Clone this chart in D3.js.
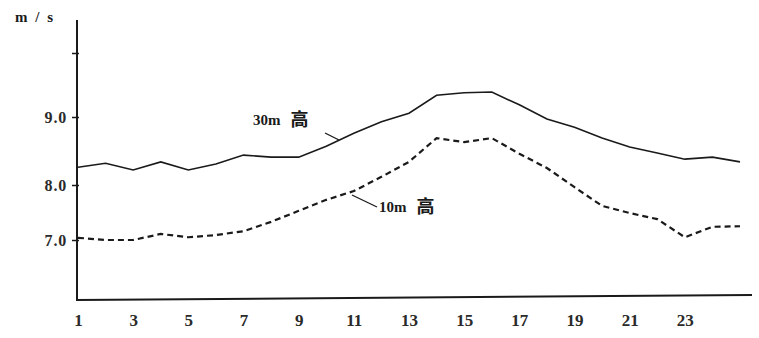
<!DOCTYPE html>
<html><head><meta charset="utf-8">
<script src="https://cdn.jsdelivr.net/npm/d3@7"></script>
<style>body{margin:0;background:#fff}svg{display:block}</style>
</head><body>
<script>
const hours = d3.range(1, 26);
const wind30 = [8.26,8.32,8.22,8.34,8.22,8.31,8.44,8.41,8.41,8.57,8.76,8.93,9.06,9.34,9.38,9.39,9.19,8.97,8.85,8.69,8.56,8.47,8.38,8.41,8.34];
const wind10 = [7.04,7.00,7.00,7.11,7.05,7.09,7.16,7.33,7.53,7.73,7.89,8.12,8.34,8.69,8.63,8.69,8.46,8.25,7.96,7.62,7.49,7.38,7.05,7.24,7.25];
const xTickLabels = [1,3,5,7,9,11,13,15,17,19,21,23];
const yTicks = [7,8,9,10];
const yTickLabels = ["7.0","8.0","9.0",""];
const unitLabel = "m / s";
const label30 = ["30m", "高"];
const label10 = ["10m", "高"];

const W = 759, H = 338;
const svg = d3.select("body").append("svg").attr("width", W).attr("height", H);
const x = d3.scaleLinear().domain([1, 25]).range([78, 740]);
const y = d3.scaleLinear().domain([6, 7, 8, 9, 10]).range([299, 240, 185, 117, 53]);
const ink = "#1a1a1a";
const font = "'Liberation Serif', 'DejaVu Serif', serif";
const cjk = "'Noto Sans CJK SC', sans-serif";

// y axis
const yAxis = svg.append("g").attr("transform", "translate(77,0)")
  .call(d3.axisLeft(y).tickValues(yTicks).tickSize(4).tickFormat((d,i)=>yTickLabels[i]));
yAxis.select(".domain").remove();
yAxis.selectAll("line").attr("stroke", ink).attr("stroke-width", 1.5).attr("x2", -5).attr("x1", 2);
yAxis.selectAll("text").attr("font-family", font).attr("font-weight", "bold").attr("font-size", 16)
  .attr("letter-spacing", 0.8).attr("fill", "#2a2a2a").attr("x", -10);
svg.append("line").attr("x1", 77).attr("x2", 77).attr("y1", 20).attr("y2", y(6)+1).attr("stroke", ink).attr("stroke-width", 2);

// x axis
const xAxis = svg.append("g").attr("transform", `translate(0,${y(6)})`)
  .call(d3.axisBottom(x).tickValues(xTickLabels).tickSize(0).tickPadding(15));
xAxis.select(".domain").remove();
xAxis.selectAll("text").attr("font-family", font).attr("font-weight", "bold").attr("font-size", 17).attr("fill", "#2a2a2a");
svg.append("line").attr("x1", 76).attr("x2", 752).attr("y1", y(6)+1).attr("y2", y(6)-4).attr("stroke", ink).attr("stroke-width", 2);

// unit
svg.append("text").attr("x", 15).attr("y", 22).attr("font-family", font).attr("font-weight", "bold")
  .attr("font-size", 15).attr("letter-spacing", 2).attr("fill", ink).text(unitLabel);

const line = d3.line().x((d,i)=>x(hours[i])).y(d=>y(d));
svg.append("path").datum(wind30).attr("d", line).attr("fill", "none").attr("stroke", ink).attr("stroke-width", 1.6);
svg.append("path").datum(wind10).attr("d", line).attr("fill", "none").attr("stroke", ink).attr("stroke-width", 2.2).attr("stroke-dasharray", "6,4");

// labels
function seriesLabel(px, py, parts) {
  const t = svg.append("text").attr("x", px).attr("y", py).attr("fill", ink);
  t.append("tspan").attr("font-family", font).attr("font-weight", "bold").attr("font-size", 15).text(parts[0]);
  t.append("tspan").attr("dx", 10).attr("font-family", cjk).attr("font-weight", "bold").attr("font-size", 18).attr("dy", 1).text(parts[1]);
}
seriesLabel(253, 125, label30);
svg.append("line").attr("x1", 325).attr("y1", 133).attr("x2", 339).attr("y2", 140).attr("stroke", ink).attr("stroke-width", 1.3);
seriesLabel(379, 212, label10);
svg.append("line").attr("x1", 352).attr("y1", 195).attr("x2", 377).attr("y2", 207).attr("stroke", ink).attr("stroke-width", 1.3);
</script>
</body></html>
